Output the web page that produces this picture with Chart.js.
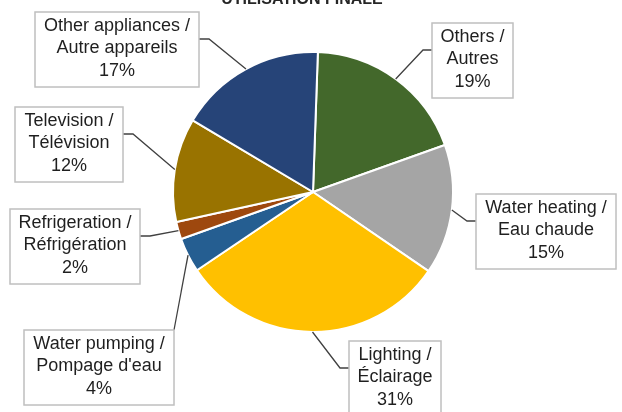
<!DOCTYPE html>
<html>
<head>
<meta charset="utf-8">
<script src="https://cdn.jsdelivr.net/npm/chart.js@4/dist/chart.umd.min.js"></script>
<style>
  html, body { margin: 0; padding: 0; background: #fff; }
</style>
</head>
<body>
<canvas id="pieChart" width="622" height="412"></canvas>
<script>
var chartTitle = 'UTILISATION FINALE';
var labelsEn = ['Others /', 'Water heating /', 'Lighting /', 'Water pumping /', 'Refrigeration /', 'Television /', 'Other appliances /'];
var labelsFr = ['Autres', 'Eau chaude', 'Éclairage', "Pompage d'eau", 'Réfrigération', 'Télévision', 'Autre appareils'];
var shares = [19, 15, 31, 4, 2, 12, 17];
var colours = ['#43682B', '#A5A5A5', '#FFC000', '#255E91', '#9E480E', '#997300', '#264478'];

// hand placed label boxes, like the original sheet: left, top, width, side the leader leaves from
var boxes = [
  [432, 23, 81, 'left'],
  [476, 194, 140, 'left'],
  [349, 341, 92, 'left'],
  [24, 330, 150, 'top'],
  [10, 209, 130, 'right'],
  [15, 107, 108, 'right'],
  [35, 12, 164, 'right']
];
var boxH = 75;

var calloutPlugin = {
  id: 'callouts',
  afterDraw: function (chart) {
    var ctx = chart.ctx;
    var arcs = chart.getDatasetMeta(0).data;
    ctx.save();

    // title, mostly cut off at the top like the source
    ctx.fillStyle = '#262626';
    ctx.font = 'bold 16px "Liberation Sans", Arial, sans-serif';
    ctx.textAlign = 'center';
    ctx.textBaseline = 'alphabetic';
    ctx.fillText(chartTitle, 302, 4);

    arcs.forEach(function (arc, i) {
      var p = arc.getProps(['x', 'y', 'startAngle', 'endAngle', 'outerRadius'], true);
      var mid = (p.startAngle + p.endAngle) / 2;
      var ex = p.x + Math.cos(mid) * p.outerRadius;
      var ey = p.y + Math.sin(mid) * p.outerRadius;
      var b = boxes[i];
      var bx = b[0], by = b[1], bw = b[2];

      ctx.strokeStyle = '#404040';
      ctx.lineWidth = 1.3;
      ctx.beginPath();
      if (b[3] == 'left') {
        ctx.moveTo(bx, by + 27);
        ctx.lineTo(bx - 9, by + 27);
      } else if (b[3] == 'right') {
        ctx.moveTo(bx + bw, by + 27);
        ctx.lineTo(bx + bw + 10, by + 27);
      } else {
        ctx.moveTo(bx + bw, by);
      }
      ctx.lineTo(ex, ey);
      ctx.stroke();

      ctx.fillStyle = '#fff';
      ctx.fillRect(bx, by, bw, boxH);
      ctx.strokeStyle = '#BFBFBF';
      ctx.lineWidth = 1.5;
      ctx.strokeRect(bx, by, bw, boxH);

      ctx.fillStyle = '#1f1f1f';
      ctx.font = '18px "Liberation Sans", Arial, sans-serif';
      ctx.textAlign = 'center';
      ctx.textBaseline = 'middle';
      var cx = bx + bw / 2;
      ctx.fillText(labelsEn[i], cx, by + 14);
      ctx.fillText(labelsFr[i], cx, by + 36.5);
      ctx.fillText(shares[i] + '%', cx, by + 59);
    });
    ctx.restore();
  }
};

var myPieChart = new Chart(document.getElementById('pieChart'), {
  type: 'pie',
  data: {
    labels: labelsEn,
    datasets: [{
      data: shares,
      backgroundColor: colours,
      borderColor: '#fff',
      borderWidth: 2
    }]
  },
  options: {
    responsive: false,
    animation: false,
    rotation: 2,
    layout: { padding: { left: 172, right: 168, top: 51, bottom: 79 } },
    plugins: {
      legend: { display: false },
      tooltip: { enabled: false }
    }
  },
  plugins: [calloutPlugin]
});
</script>
</body>
</html>
